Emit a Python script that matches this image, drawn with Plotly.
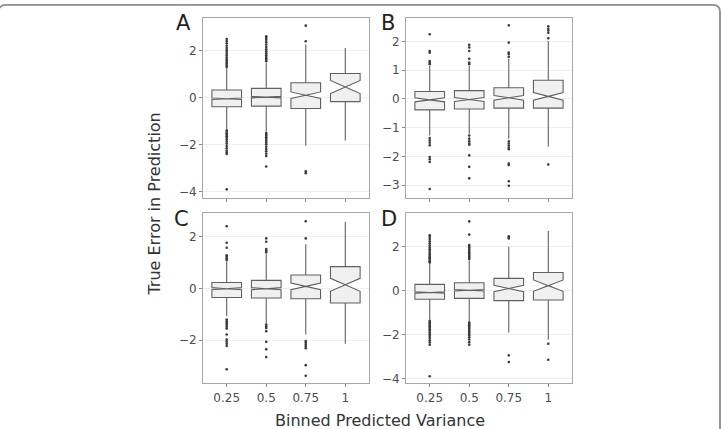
import plotly.graph_objects as go

categories = ['0.25', '0.5', '0.75', '1']
positions = [0, 1, 2, 3]

# Panel A
A_q1 = [-0.39, -0.36, -0.46, -0.17]
A_med = [-0.05, 0.02, 0.10, 0.45]
A_q3 = [0.32, 0.39, 0.63, 1.02]
A_lo = [-1.36, -1.45, -2.04, -1.82]
A_hi = [1.26, 1.47, 2.25, 2.10]
A_notch = [0.03, 0.03, 0.14, 0.28]
A_out = [
    [1.30, 1.36, 1.42, 1.48, 1.55, 1.62, 1.70, 1.78, 1.86, 1.94, 2.02, 2.10, 2.20, 2.30, 2.40, 2.48,
     -1.40, -1.46, -1.52, -1.58, -1.64, -1.70, -1.78, -1.86, -1.95, -2.05, -2.15, -2.25, -2.33, -2.39, -3.89],
    [1.54, 1.60, 1.66, 1.72, 1.80, 1.88, 1.96, 2.05, 2.15, 2.25, 2.35, 2.45, 2.53, 2.60,
     -1.50, -1.56, -1.62, -1.68, -1.75, -1.82, -1.90, -1.98, -2.08, -2.18, -2.28, -2.38, -2.48, -2.92],
    [2.39, 3.05, -3.13, -3.21],
    [],
]

# Panel B
B_q1 = [-0.38, -0.35, -0.32, -0.32]
B_med = [-0.03, -0.02, 0.04, 0.09]
B_q3 = [0.26, 0.29, 0.39, 0.65]
B_lo = [-1.27, -1.21, -1.38, -1.65]
B_hi = [1.15, 1.15, 1.40, 2.02]
B_notch = [0.07, 0.07, 0.08, 0.13]
B_out = [
    [1.21, 1.27, 1.32, 1.61, 1.67, 2.25, -1.36, -1.44, -1.52, -1.61, -2.02, -2.10, -2.19, -3.13],
    [1.21, 1.27, 1.40, 1.67, 1.79, 1.88, -1.27, -1.38, -1.47, -1.55, -1.59, -1.96, -2.36, -2.76],
    [1.47, 1.56, 1.61, 1.96, 2.56, -1.47, -1.55, -1.62, -1.70, -1.75, -2.25, -2.30, -2.86, -3.02],
    [2.11, 2.30, 2.38, 2.44, 2.53, -2.28],
]

# Panel C
C_q1 = [-0.35, -0.37, -0.40, -0.56]
C_med = [-0.01, -0.01, 0.08, 0.14]
C_q3 = [0.23, 0.31, 0.52, 0.84]
C_lo = [-1.07, -1.33, -1.78, -2.13]
C_hi = [1.05, 1.35, 1.70, 2.57]
C_notch = [0.04, 0.04, 0.13, 0.25]
C_out = [
    [1.10, 1.16, 1.22, 1.28, 1.57, 1.76, 2.40, -1.20, -1.27, -1.34, -1.41, -1.48, -1.55, -1.78,
     -1.97, -2.05, -2.13, -2.22, -3.12],
    [1.40, 1.46, 1.52, 1.80, 1.93, -1.39, -1.46, -1.53, -1.65, -2.06, -2.35, -2.65],
    [1.93, 2.59, -2.03, -2.10, -2.17, -2.24, -2.31, -2.96, -3.37],
    [],
]

# Panel D
D_q1 = [-0.39, -0.35, -0.45, -0.42]
D_med = [-0.08, 0.02, 0.10, 0.23]
D_q3 = [0.29, 0.36, 0.56, 0.83]
D_lo = [-1.33, -1.40, -1.90, -2.23]
D_hi = [1.24, 1.39, 2.00, 2.71]
D_notch = [0.03, 0.03, 0.15, 0.26]
D_out = [
    [1.28, 1.34, 1.40, 1.46, 1.52, 1.58, 1.65, 1.72, 1.80, 1.88, 1.96, 2.05, 2.15, 2.25, 2.35, 2.44, 2.52,
     -1.38, -1.44, -1.50, -1.56, -1.62, -1.68, -1.75, -1.82, -1.90, -1.98, -2.06, -2.15, -2.25, -2.35, -2.46, -3.89],
    [1.44, 1.50, 1.56, 1.62, 1.68, 1.75, 1.82, 1.90, 1.98, 2.07, 2.55, 3.15,
     -1.45, -1.51, -1.57, -1.63, -1.70, -1.77, -1.85, -1.93, -2.02, -2.12, -2.22, -2.34, -2.46],
    [2.37, 2.42, 2.47, -2.94, -3.24],
    [-2.41, -3.14],
]

panels = [
    ('A', A_q1, A_med, A_q3, A_lo, A_hi, A_notch, A_out),
    ('B', B_q1, B_med, B_q3, B_lo, B_hi, B_notch, B_out),
    ('C', C_q1, C_med, C_q3, C_lo, C_hi, C_notch, C_out),
    ('D', D_q1, D_med, D_q3, D_lo, D_hi, D_notch, D_out),
]

y_ticks = {
    'A': [-4, -2, 0, 2],
    'B': [-3, -2, -1, 0, 1, 2],
    'C': [-2, 0, 2],
    'D': [-4, -2, 0, 2],
}
y_ranges = {
    'A': [-4.24, 3.38],
    'B': [-3.43, 2.82],
    'C': [-3.66, 2.89],
    'D': [-4.21, 3.51],
}

W, H = 722, 429
# panel pixel boxes (left, right, top, bottom)
boxes_px = {
    'A': (203, 369, 18, 199),
    'B': (406, 572, 18, 199),
    'C': (203, 369, 215, 386),
    'D': (406, 572, 215, 386),
}
label_px = {'A': (183, 23), 'B': (388, 23), 'C': (182, 221), 'D': (389, 221)}

TICK_COLOR = '#4d4d4d'

fig = go.Figure()
layout = dict(
    width=W, height=H,
    margin=dict(l=0, r=0, t=0, b=0),
    paper_bgcolor='white', plot_bgcolor='white',
    showlegend=False,
    font=dict(family='DejaVu Sans', color=TICK_COLOR),
)
annotations = []

for i, (name, q1, med, q3, lo, hi, notch, outs) in enumerate(panels):
    sfx = '' if i == 0 else str(i + 1)
    xa, ya = 'x' + sfx, 'y' + sfx
    fig.add_trace(go.Box(
        x=positions, q1=q1, median=med, q3=q3, lowerfence=lo, upperfence=hi,
        notchspan=notch, notched=True, notchwidth=0.5, width=0.75,
        whiskerwidth=0, boxpoints=False,
        fillcolor='#f0f0f0', line=dict(color='#606060', width=1.1),
        xaxis=xa, yaxis=ya, hoverinfo='skip',
    ))
    ox, oy = [], []
    for p, vals in zip(positions, outs):
        for v in vals:
            ox.append(p)
            oy.append(v)
    fig.add_trace(go.Scatter(
        x=ox, y=oy, mode='markers',
        marker=dict(size=2.6, color='#3a3a3a', line=dict(width=0)),
        xaxis=xa, yaxis=ya, hoverinfo='skip',
    ))
    l, r, t, b = boxes_px[name]
    bottom_row = name in ('C', 'D')
    layout['xaxis' + sfx] = dict(
        domain=[l / W, r / W], anchor=ya, range=[-0.6, 3.6],
        tickvals=positions, ticktext=categories if bottom_row else [''] * 4,
        showgrid=False, zeroline=False,
        showline=True, mirror=True, linecolor='#a8a8a8', linewidth=1,
        ticks='outside', ticklen=3, tickcolor='#888888', tickwidth=1,
        tickfont=dict(size=12, color=TICK_COLOR, family='DejaVu Sans'),
    )
    yt = y_ticks[name]
    layout['yaxis' + sfx] = dict(
        domain=[1 - b / H, 1 - t / H], anchor=xa, range=y_ranges[name],
        tickvals=yt, ticktext=[str(v).replace('-', '\u2212') for v in yt],
        showgrid=True, gridcolor='#eeeeee', gridwidth=1, zeroline=False,
        showline=True, mirror=True, linecolor='#a8a8a8', linewidth=1,
        ticks='outside', ticklen=3, tickcolor='#888888', tickwidth=1,
        tickfont=dict(size=12, color=TICK_COLOR, family='DejaVu Sans'),
    )
    lx, ly = label_px[name]
    annotations.append(dict(
        text=name, x=lx / W, y=1 - ly / H, xref='paper', yref='paper',
        showarrow=False, xanchor='center', yanchor='middle',
        font=dict(size=21, color='#222222', family='DejaVu Sans'),
    ))

annotations.append(dict(
    text='Binned Predicted Variance', x=380 / W, y=1 - 423 / H, xref='paper', yref='paper',
    showarrow=False, xanchor='center', yanchor='middle',
    font=dict(size=16, color='#333333', family='DejaVu Sans'),
))
annotations.append(dict(
    text='True Error in Prediction', x=155 / W, y=1 - 206 / H, xref='paper', yref='paper',
    showarrow=False, xanchor='center', yanchor='middle', textangle=-90,
    font=dict(size=16, color='#333333', family='DejaVu Sans'),
))
layout['annotations'] = annotations

# outer rounded frame
ty = 1 - 5 / H
rx = 720 / W
layout['shapes'] = [dict(
    type='path', xref='paper', yref='paper',
    path=f'M -0.002,{ty - 0.012} Q 0,{ty} 0.008,{ty} L {rx - 0.01},{ty} Q {rx},{ty} {rx},{ty - 0.016} L {rx},-0.02',
    line=dict(color='#8c8c8c', width=1.8),
)]

fig.update_layout(**layout)
fig.write_html('out.html')
